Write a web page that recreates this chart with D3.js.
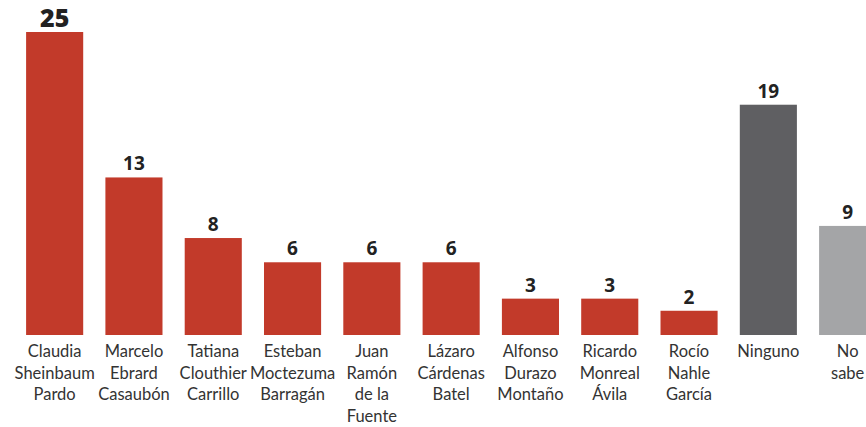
<!DOCTYPE html>
<html>
<head>
<meta charset="utf-8">
<script src="https://cdn.jsdelivr.net/npm/d3@7"></script>
<style>
  body { margin: 0; background: #fff; }
  svg { display: block; font-family: "Open Sans", "Noto Sans", sans-serif; }
</style>
</head>
<body>
<div id="chart"></div>
<script>
const categories = [
  ["Claudia", "Sheinbaum", "Pardo"],
  ["Marcelo", "Ebrard", "Casaubón"],
  ["Tatiana", "Clouthier", "Carrillo"],
  ["Esteban", "Moctezuma", "Barragán"],
  ["Juan", "Ramón", "de la", "Fuente"],
  ["Lázaro", "Cárdenas", "Batel"],
  ["Alfonso", "Durazo", "Montaño"],
  ["Ricardo", "Monreal", "Ávila"],
  ["Rocío", "Nahle", "García"],
  ["Ninguno"],
  ["No", "sabe"]
];
const values = [25, 13, 8, 6, 6, 6, 3, 3, 2, 19, 9];
const barColors = ["#c23a2a", "#c23a2a", "#c23a2a", "#c23a2a", "#c23a2a", "#c23a2a",
  "#c23a2a", "#c23a2a", "#c23a2a", "#5f5f62", "#a4a5a7"];

const width = 866, height = 427;
const baseline = 335;

const svg = d3.select("#chart").append("svg")
  .attr("width", width)
  .attr("height", height);

const keys = categories.map((c, i) => i);

const x = d3.scaleBand()
  .domain(keys)
  .range([15, 15 + 11 * 79.3])
  .paddingInner(0.28)
  .paddingOuter(0.14);

const y = d3.scaleLinear()
  .domain([0, 25])
  .range([baseline, 32]);

// bars
svg.append("g").selectAll("rect")
  .data(values)
  .join("rect")
  .attr("x", (d, i) => x(i))
  .attr("y", d => y(d))
  .attr("width", x.bandwidth())
  .attr("height", d => baseline - y(d))
  .attr("fill", (d, i) => barColors[i]);

// value labels
svg.append("g").selectAll("text")
  .data(values)
  .join("text")
  .attr("x", (d, i) => x(i) + x.bandwidth() / 2)
  .attr("y", d => y(d) - (d === 25 ? 5 : 7))
  .attr("text-anchor", "middle")
  .attr("fill", "#222")
  .attr("font-weight", d => d === 25 ? 800 : 700)
  .attr("font-size", d => d === 25 ? 25 : 19)
  .text(d => d);

// category labels
const lbl = svg.append("g").selectAll("text")
  .data(categories)
  .join("text")
  .attr("text-anchor", "middle")
  .attr("fill", "#333")
  .attr("font-family", "Lato, sans-serif")
  .attr("font-size", 16.5);

lbl.selectAll("tspan")
  .data((d, i) => d.map(line => ({ line, i })))
  .join("tspan")
  .attr("x", d => x(d.i) + x.bandwidth() / 2)
  .attr("y", (d, j) => 357 + j * 21.7)
  .text(d => d.line);
</script>
</body>
</html>
